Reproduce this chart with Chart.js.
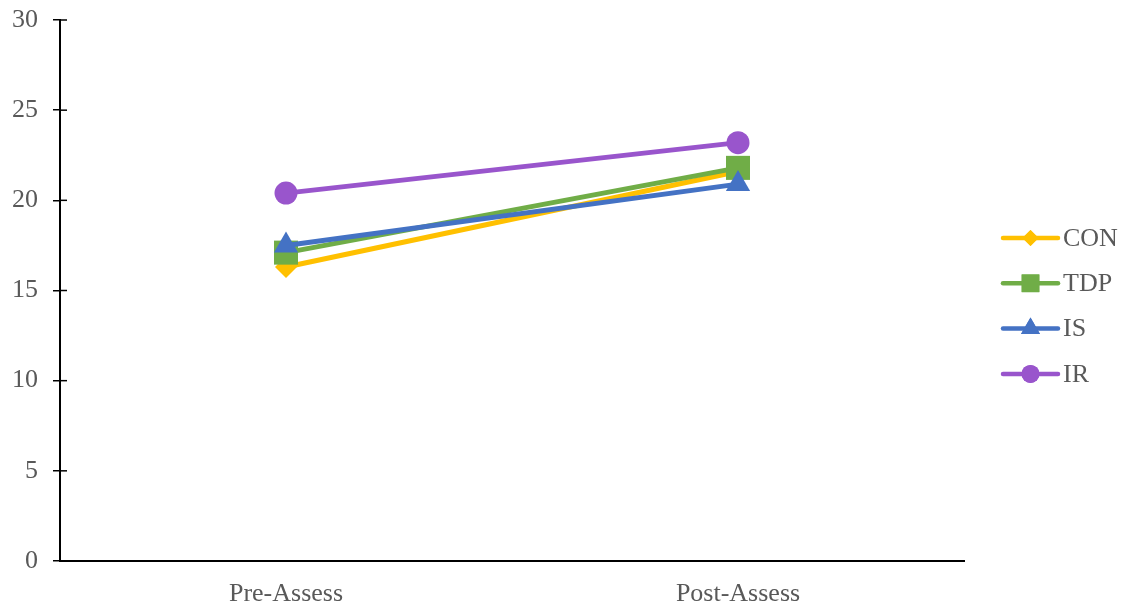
<!DOCTYPE html>
<html>
<head>
<meta charset="utf-8">
<script src="https://cdn.jsdelivr.net/npm/chart.js@4/dist/chart.umd.min.js"></script>
<style>
  body { margin: 0; background: #fff; }
  canvas { display: block; }
</style>
</head>
<body>
<canvas id="graphique" width="1125" height="606"></canvas>
<script>
// Données
const categories = ['Pre-Assess', 'Post-Assess'];
const nomsSeries = ['CON', 'TDP', 'IS', 'IR'];
const valeursCON = [16.3, 21.6];
const valeursTDP = [17.1, 21.8];
const valeursIS = [17.5, 20.9];
const valeursIR = [20.4, 23.2];
const ticksY = [0, 5, 10, 15, 20, 25, 30];

const COULEURS = ['#FFC000', '#70AD47', '#4472C4', '#9955CC'];
const STYLES = ['rectRot', 'rect', 'triangle', 'circle'];
const RAYONS = [11, 17, 14, 11.5];       // taille des marqueurs sur le tracé
const RAYONS_LEGENDE = [8, 12.5, 11, 9]; // un peu plus petits dans la légende
const POLICE = '"Liberation Serif", "Times New Roman", serif';
const GRIS_TEXTE = '#595959';

const valeurs = [valeursCON, valeursTDP, valeursIS, valeursIR];

// Petits traits de graduation qui traversent l'axe Y + légende "ligne + marqueur"
const pluginAxeEtLegende = {
    id: 'axeEtLegende',
    afterDraw(chart) {
        const ctx = chart.ctx;
        const echelleY = chart.scales.y;
        const zone = chart.chartArea;

        ctx.save();
        ctx.strokeStyle = '#000';
        ctx.lineWidth = 1.5;
        echelleY.ticks.forEach(t => {
            const py = echelleY.getPixelForValue(t.value);
            ctx.beginPath();
            ctx.moveTo(zone.left, py);
            ctx.lineTo(zone.left + 7, py);
            ctx.stroke();
        });

        // Légende à droite
        const x0 = zone.right + 39;
        const largeurTrait = 55;
        const yDebut = 238;
        const pas = 45.3;
        ctx.font = '26px ' + POLICE;
        ctx.textBaseline = 'middle';
        ctx.textAlign = 'left';
        chart.data.datasets.forEach((ds, i) => {
            const y = yDebut + i * pas;
            ctx.strokeStyle = ds.borderColor;
            ctx.lineWidth = 4.5;
            ctx.lineCap = 'round';
            ctx.beginPath();
            ctx.moveTo(x0, y);
            ctx.lineTo(x0 + largeurTrait, y);
            ctx.stroke();
            ctx.fillStyle = ds.borderColor;
            Chart.helpers.drawPoint(ctx, {
                pointStyle: STYLES[i],
                radius: RAYONS_LEGENDE[i],
                rotation: 0,
                borderWidth: 0
            }, x0 + largeurTrait / 2, y);
            ctx.fill();
            ctx.fillStyle = GRIS_TEXTE;
            ctx.fillText(ds.label, x0 + largeurTrait + 5, y + 1);
        });
        ctx.restore();
    }
};

const ctx = document.getElementById('graphique');

new Chart(ctx, {
    type: 'line',
    data: {
        labels: categories,
        datasets: nomsSeries.map((nom, i) => ({
            label: nom,
            data: valeurs[i],
            borderColor: COULEURS[i],
            backgroundColor: COULEURS[i],
            borderWidth: 5,
            pointStyle: STYLES[i],
            pointRadius: RAYONS[i],
            pointHoverRadius: RAYONS[i],
            pointBorderWidth: 0,
            tension: 0,
            fill: false,
            order: nomsSeries.length - i // IR dessiné par-dessus
        }))
    },
    options: {
        responsive: false,
        animation: false,
        layout: {
            padding: { top: 20, right: 161, bottom: 0, left: 0 }
        },
        plugins: {
            legend: { display: false },
            tooltip: { enabled: false }
        },
        scales: {
            x: {
                offset: true,
                grid: { display: false },
                border: { display: true, color: '#000', width: 2 },
                ticks: {
                    color: GRIS_TEXTE,
                    font: { family: POLICE, size: 26 },
                    padding: 10
                },
                afterFit(echelle) {
                    echelle.height = 45;
                    echelle.paddingLeft = 0;
                    echelle.paddingRight = 0;
                }
            },
            y: {
                min: 0,
                max: 30,
                afterBuildTicks(echelle) {
                    echelle.ticks = ticksY.map(v => ({ value: v }));
                },
                grid: {
                    drawOnChartArea: false,
                    drawTicks: true,
                    tickLength: 7,
                    color: '#000',
                    lineWidth: 1.5
                },
                border: { display: true, color: '#000', width: 2 },
                ticks: {
                    color: GRIS_TEXTE,
                    font: { family: POLICE, size: 26 },
                    padding: 15
                },
                afterFit(echelle) {
                    echelle.width = 60;
                    echelle.paddingTop = 0;
                    echelle.paddingBottom = 0;
                }
            }
        }
    },
    plugins: [pluginAxeEtLegende]
});
</script>
</body>
</html>
